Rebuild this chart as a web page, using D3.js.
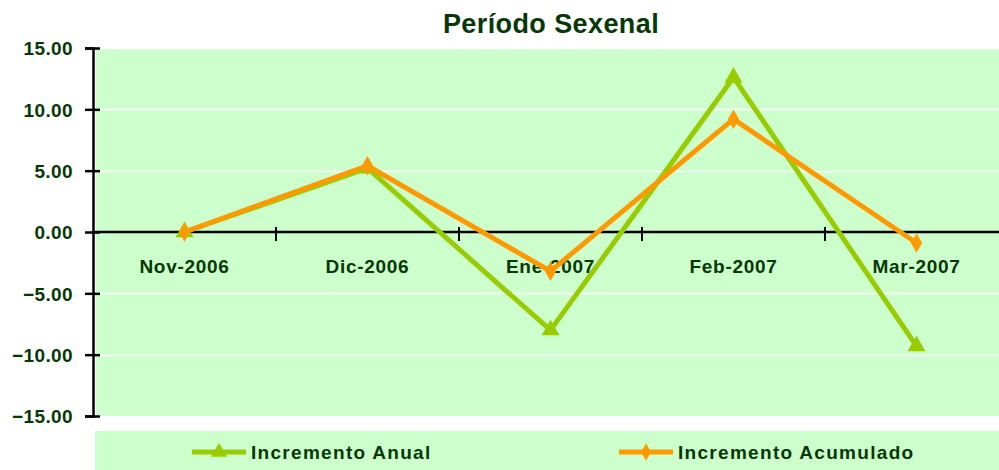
<!DOCTYPE html>
<html>
<head>
<meta charset="utf-8">
<script src="https://cdn.jsdelivr.net/npm/d3@7"></script>
<style>
  body { margin: 0; background: #fff; }
  text { font-family: "Liberation Sans", Arial, sans-serif; font-weight: bold; fill: #063806; }
</style>
</head>
<body>
<svg id="chart" width="999" height="470"></svg>
<script>
// chart data
var categories = ["Nov-2006", "Dic-2006", "Ene-2007", "Feb-2007", "Mar-2007"];
var anual = [0, 5.2, -8.0, 12.6, -9.3];
var acumulado = [0, 5.4, -3.2, 9.2, -0.9];
var yTicks = [-15, -10, -5, 0, 5, 10, 15];

var svg = d3.select("#chart"),
    plotLeft = 93, plotRight = 1008, plotTop = 48, plotBottom = 416;

var x = d3.scaleBand().domain(categories).range([plotLeft, plotRight]);
var y = d3.scaleLinear().domain([-15, 15]).range([plotBottom, plotTop]);

// title
svg.append("text")
    .attr("x", 551).attr("y", 33)
    .attr("text-anchor", "middle")
    .style("font-size", "27px")
    .style("letter-spacing", "0.4px")
    .attr("fill", "#063806")
    .text("Período Sexenal");

// plot background
svg.append("rect")
    .attr("x", plotLeft + 3).attr("y", plotTop)
    .attr("width", 999 - plotLeft - 3).attr("height", plotBottom - plotTop)
    .attr("fill", "#ccffcc");

// white gridlines
svg.selectAll(".grid").data(yTicks.filter(function (d) { return d != 0 && d != -15; }))
  .enter().append("line")
    .attr("x1", plotLeft).attr("x2", 999)
    .attr("y1", function (d) { return Math.round(y(d)) + 0.5; })
    .attr("y2", function (d) { return Math.round(y(d)) + 0.5; })
    .attr("stroke", "#fff").attr("stroke-width", 1.5);

// y axis
var yAxis = svg.append("g")
    .attr("transform", "translate(" + plotLeft + ",0)")
    .call(d3.axisLeft(y).tickValues(yTicks).tickFormat(d3.format(".2f")).tickSize(8).tickPadding(12));
yAxis.select(".domain").attr("stroke", "#000").attr("stroke-width", 2.5);
yAxis.selectAll(".tick line").attr("stroke", "#000").attr("stroke-width", 2.5).attr("x2", -8).attr("x1", 7);
yAxis.selectAll(".tick text")
    .style("font-size", "19px")
    .style("letter-spacing", "0.4px")
    .attr("dy", "0.36em")
    .attr("fill", "#063806");

// x axis at zero with ticks between categories
var x0 = y(0);
svg.append("line")
    .attr("x1", plotLeft).attr("x2", 999)
    .attr("y1", x0).attr("y2", x0)
    .attr("stroke", "#000").attr("stroke-width", 2.5);
var bounds = categories.slice(1).map(function (c) { return x(c); });
svg.selectAll(".xtick").data(bounds).enter().append("line")
    .attr("x1", function (d) { return d; }).attr("x2", function (d) { return d; })
    .attr("y1", x0 - 5).attr("y2", x0 + 9)
    .attr("stroke", "#000").attr("stroke-width", 2);
svg.selectAll(".xlabel").data(categories).enter().append("text")
    .attr("x", function (d) { return x(d) + x.bandwidth() / 2; })
    .attr("y", x0 + 41)
    .attr("text-anchor", "middle")
    .style("font-size", "19px")
    .style("letter-spacing", "0.7px")
    .text(function (d) { return d; });

var cx = function (d, i) { return x(categories[i]) + x.bandwidth() / 2; };
var line = d3.line().x(cx).y(function (d) { return y(d); });

var series = [
  { name: "Incremento Anual", values: anual, color: "#99cc00", symbol: d3.symbolTriangle, size: 140 },
  { name: "Incremento Acumulado", values: acumulado, color: "#ff9900", symbol: d3.symbolDiamond, size: 110 }
];

series.forEach(function (s) {
  svg.append("path")
      .datum(s.values)
      .attr("d", line)
      .attr("fill", "none")
      .attr("stroke", s.color)
      .attr("stroke-width", 5)
      .attr("stroke-linejoin", "miter");
  svg.selectAll(null).data(s.values).enter().append("path")
      .attr("d", d3.symbol().type(s.symbol).size(s.size))
      .attr("transform", function (d, i) { return "translate(" + cx(d, i) + "," + y(d) + ")"; })
      .attr("fill", s.color);
});

// legend
svg.append("rect")
    .attr("x", 95).attr("y", 431)
    .attr("width", 904).attr("height", 39)
    .attr("fill", "#ccffcc");
var legendX = [192, 619];
series.forEach(function (s, i) {
  var g = svg.append("g").attr("transform", "translate(" + legendX[i] + ",452)");
  g.append("line").attr("x1", 0).attr("x2", 54).attr("stroke", s.color).attr("stroke-width", 5);
  g.append("path")
      .attr("d", d3.symbol().type(s.symbol).size(s.size * 0.8))
      .attr("transform", "translate(27,0)")
      .attr("fill", s.color);
  g.append("text")
      .attr("x", 59).attr("y", 7)
      .style("font-size", "19px")
      .style("letter-spacing", "1.3px")
      .text(s.name);
});
</script>
</body>
</html>
